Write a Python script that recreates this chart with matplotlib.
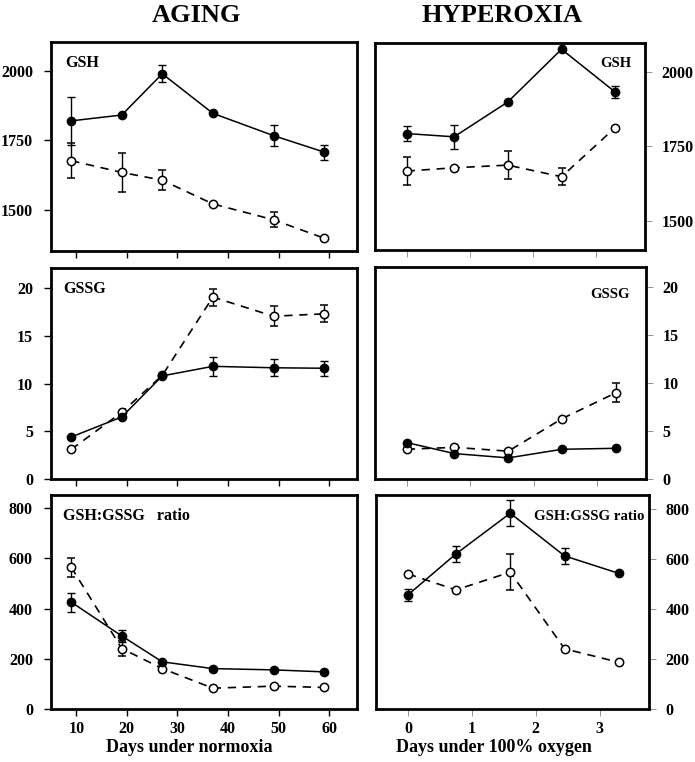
import matplotlib
matplotlib.use("Agg")
import matplotlib.pyplot as plt

plt.rcParams['font.family'] = ['Liberation Serif', 'DejaVu Serif']
plt.rcParams['font.weight'] = 'bold'

# aging (days under normoxia)
age_days = [9, 19, 27, 37, 49, 59]
age_gsh_fill = [1820, 1841, 1989, 1847, 1767, 1708]
age_gsh_fill_err = [86, 0, 30, 0, 38, 27]
age_gsh_open = [1677, 1635, 1607, 1522, 1465, 1399]
age_gsh_open_err = [62, 70, 35, 0, 27, 0]
age_gssg_fill = [4.4, 6.5, 10.8, 11.8, 11.65, 11.6]
age_gssg_fill_err = [0, 0, 0, 1.0, 0.9, 0.8]
age_gssg_open = [3.1, 7.0, 10.85, 19.05, 17.05, 17.3]
age_gssg_open_err = [0, 0, 0, 0.9, 1.05, 0.9]
age_ratio_fill = [426, 291, 188, 161, 156, 148]
age_ratio_fill_err = [38, 25, 0, 0, 0, 0]
age_ratio_open = [565, 241, 161, 83, 91, 86]
age_ratio_open_err = [37, 30, 0, 0, 0, 0]

# hyperoxia (days under 100% oxygen)
hyp_days = [0, 0.75, 1.6, 2.45, 3.3]
hyp_gsh_fill = [1793, 1782, 1899, 2076, 1932]
hyp_gsh_fill_err = [24, 40, 0, 0, 20]
hyp_gsh_open = [1667, 1678, 1687, 1648, 1813]
hyp_gsh_open_err = [47, 0, 47, 29, 0]
hyp_gssg_fill = [3.8, 2.65, 2.2, 3.1, 3.2]
hyp_gssg_open = [3.1, 3.3, 2.9, 6.3, 9.0]
hyp_gssg_open_err = [0, 0, 0, 0, 1.0]
hyp_ratio_fill = [457, 621, 784, 613, 543]
hyp_ratio_fill_err = [25, 33, 51, 33, 0]
hyp_ratio_open = [541, 477, 548, 241, 187]
hyp_ratio_open_err = [0, 0, 72, 0, 0]

W, H = 695, 762
fig = plt.figure(figsize=(W / 100, H / 100), dpi=100)


def make_ax(x0, x1, y0, y1):
    return fig.add_axes([x0 / W, 1 - y1 / H, (x1 - x0) / W, (y1 - y0) / H])


def draw(ax, x, yf, ef, yo, eo):
    ax.errorbar(x, yo, yerr=eo, color='black', ls=(0, (5, 4)), lw=1.2,
                marker='o', ms=6, mfc='white', mec='black', mew=1.1,
                capsize=3, elinewidth=1, capthick=1, zorder=3)
    ax.errorbar(x, yf, yerr=ef, color='black', ls='-', lw=1.1,
                marker='o', ms=6, mfc='black', mec='black',
                capsize=3, elinewidth=1, capthick=1, zorder=4)


def style(ax, right=False):
    for s in ax.spines.values():
        s.set_linewidth(2)
    ax.tick_params(direction='out', labelsize=11.5, length=5, width=1)
    if right:
        ax.yaxis.tick_right()
        ax.tick_params(axis='y', width=0.6, color='gray', pad=7)
        ax.tick_params(axis='x', width=0.6, color='gray')
    else:
        ax.tick_params(axis='y', pad=8)


zero = [0] * 5

# left column
ax = make_ax(51, 357, 42, 251)
draw(ax, age_days, age_gsh_fill, age_gsh_fill_err, age_gsh_open, age_gsh_open_err)
ax.set_xlim(5, 65.5)
ax.set_ylim(1353, 2103)
ax.set_yticks([1500, 1750, 2000])
ax.set_xticks([10, 20, 30, 40, 50, 60])
ax.set_xticklabels([])
ax.text(0.045, 0.94, 'GSH', transform=ax.transAxes, fontsize=11.5, va='top')
style(ax)

ax = make_ax(51, 357, 268, 479)
draw(ax, age_days, age_gssg_fill, age_gssg_fill_err, age_gssg_open, age_gssg_open_err)
ax.set_xlim(5, 65.5)
ax.set_ylim(0, 22.1)
ax.set_yticks([0, 5, 10, 15, 20])
ax.set_xticks([10, 20, 30, 40, 50, 60])
ax.set_xticklabels([])
ax.text(0.04, 0.94, 'GSSG', transform=ax.transAxes, fontsize=11.5, va='top')
style(ax)

ax = make_ax(51, 357, 495, 709)
draw(ax, age_days, age_ratio_fill, age_ratio_fill_err, age_ratio_open, age_ratio_open_err)
ax.set_xlim(5, 65.5)
ax.set_ylim(0, 853)
ax.set_yticks([0, 200, 400, 600, 800])
ax.set_xticks([10, 20, 30, 40, 50, 60])
ax.text(0.04, 0.94, 'GSH:GSSG   ratio', transform=ax.transAxes, fontsize=11.5, va='top')
style(ax)

# right column
ax = make_ax(375, 645, 43, 250)
draw(ax, hyp_days, hyp_gsh_fill, hyp_gsh_fill_err, hyp_gsh_open, hyp_gsh_open_err)
ax.set_xlim(-0.5, 3.77)
ax.set_ylim(1402, 2097)
ax.set_yticks([1500, 1750, 2000])
ax.set_xticks([0, 1, 2, 3])
ax.set_xticklabels([])
ax.text(0.95, 0.93, 'GSH', transform=ax.transAxes, fontsize=10.5, va='top', ha='right')
style(ax, right=True)

ax = make_ax(375, 646, 267, 479)
draw(ax, hyp_days, hyp_gssg_fill, zero, hyp_gssg_open, hyp_gssg_open_err)
ax.set_xlim(-0.5, 3.77)
ax.set_ylim(0, 22.1)
ax.set_yticks([0, 5, 10, 15, 20])
ax.set_xticks([0, 1, 2, 3])
ax.set_xticklabels([])
ax.text(0.94, 0.9, 'GSSG', transform=ax.transAxes, fontsize=10.5, va='top', ha='right')
style(ax, right=True)

ax = make_ax(376, 649, 495, 709)
draw(ax, hyp_days, hyp_ratio_fill, hyp_ratio_fill_err, hyp_ratio_open, hyp_ratio_open_err)
ax.set_xlim(-0.5, 3.77)
ax.set_ylim(0, 857)
ax.set_yticks([0, 200, 400, 600, 800])
ax.set_xticks([0, 1, 2, 3])
ax.text(0.985, 0.93, 'GSH:GSSG ratio', transform=ax.transAxes, fontsize=10.7, va='top', ha='right')
style(ax, right=True)

fig.text(197 / W, 1 - 16 / H, 'AGING', ha='center', va='center', fontsize=19, fontweight='bold')
fig.text(502 / W, 1 - 16 / H, 'HYPEROXIA', ha='center', va='center', fontsize=19, fontweight='bold')
fig.text(189 / W, 1 - 748 / H, 'Days under normoxia', ha='center', va='center', fontsize=13, fontweight='bold')
fig.text(494 / W, 1 - 748 / H, 'Days under 100% oxygen', ha='center', va='center', fontsize=13, fontweight='bold')

fig.savefig('out.png', dpi=100)
